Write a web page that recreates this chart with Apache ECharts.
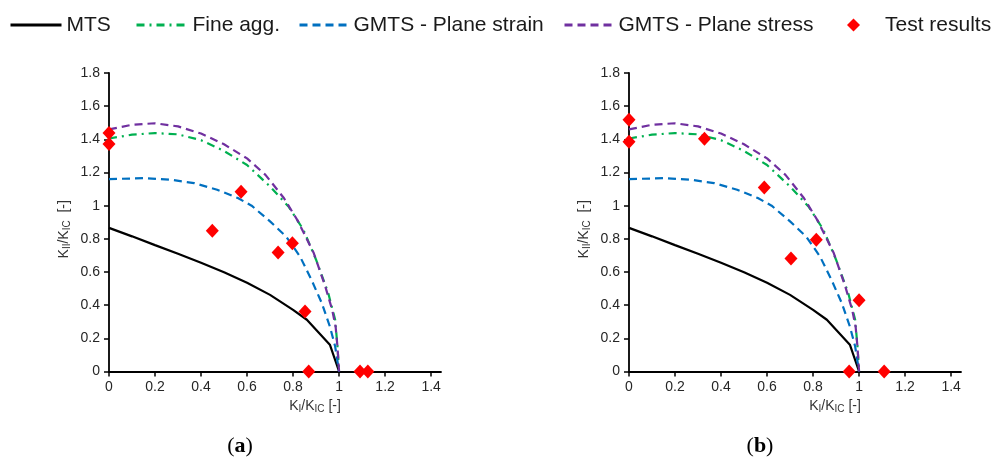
<!DOCTYPE html>
<html><head><meta charset="utf-8">
<script src="https://cdn.jsdelivr.net/npm/echarts@6/dist/echarts.min.js"></script>
<style>html,body{margin:0;padding:0;background:#fff}#c{width:992px;height:458px}</style>
</head><body><div id="c"></div>
<script>
// ---- data ----
const mtsX = [0, 0.1, 0.2, 0.3, 0.4, 0.5, 0.6, 0.7, 0.8, 0.86, 0.96, 1];
const mtsY = [0.866, 0.815, 0.762, 0.71, 0.656, 0.598, 0.535, 0.462, 0.372, 0.312, 0.162, 0];

const fineX = [0, 0.1, 0.2, 0.3, 0.4, 0.5, 0.6, 0.7, 0.78, 0.845, 0.9, 0.953, 0.983, 0.993, 1];
const fineY = [1.405, 1.428, 1.438, 1.43, 1.395, 1.33, 1.245, 1.116, 0.995, 0.855, 0.674, 0.473, 0.312, 0.151, 0];

const strainX = [0, 0.15, 0.27, 0.37, 0.47, 0.56, 0.62, 0.7, 0.77, 0.83, 0.88, 0.925, 0.96, 0.983, 1];
const strainY = [1.16, 1.166, 1.156, 1.136, 1.096, 1.046, 1.0, 0.905, 0.814, 0.694, 0.553, 0.412, 0.271, 0.151, 0];

const stressX = [0, 0.1, 0.2, 0.3, 0.4, 0.5, 0.6, 0.68, 0.76, 0.82, 0.89, 0.94, 0.97, 0.985, 0.993, 1];
const stressY = [1.46, 1.488, 1.497, 1.478, 1.435, 1.37, 1.285, 1.186, 1.046, 0.91, 0.714, 0.513, 0.372, 0.27, 0.15, 0];

const testAX = [0, 0, 0.574, 0.449, 0.735, 0.797, 0.852, 0.868, 1.091, 1.125];
const testAY = [1.438, 1.372, 1.084, 0.849, 0.718, 0.774, 0.362, 0, 0, 0];
const testBX = [0, 0, 0.328, 0.588, 0.704, 0.814, 1.0, 0.957, 1.109];
const testBY = [1.518, 1.386, 1.404, 1.110, 0.682, 0.794, 0.430, 0, 0];

const xTicks = [0, 0.2, 0.4, 0.6, 0.8, 1, 1.2, 1.4];
const seriesNames = ['MTS', 'Fine agg.', 'GMTS - Plane strain', 'GMTS - Plane stress', 'Test results'];
const panelLabels = ['a', 'b'];

// ---- chart ----
const pts = (xs, ys) => xs.map((x, i) => [x, ys[i]]);
const FONT = 'Liberation Sans, Arial, sans-serif';
const chart = echarts.init(document.getElementById('c'), null, {renderer: 'canvas'});

const grids = [
  {left: 109, top: 73, width: 332, height: 298.5},
  {left: 629, top: 73, width: 332, height: 298.5}
];

const subRich = {
  k: {fontSize: 14, fontFamily: FONT, color: '#333', lineHeight: 16},
  s: {fontSize: 10, fontFamily: FONT, color: '#333', lineHeight: 6, verticalAlign: 'bottom'}
};

function xAxis(i) {
  return {
    gridIndex: i, type: 'value', min: 0, max: 1.443,
    splitLine: {show: false},
    axisLine: {show: true, onZero: false, lineStyle: {color: '#000', width: 1.8}},
    axisTick: {show: true, inside: false, length: 5, customValues: xTicks, lineStyle: {color: '#000', width: 1.5}},
    axisLabel: {customValues: xTicks, margin: 9, color: '#262626', fontSize: 14, fontFamily: FONT},
    name: '{k|K}{s|I}{k|/K}{s|IC}{k| [-]}',
    nameLocation: 'middle', nameGap: 26,
    nameTextStyle: {rich: subRich, padding: [0, 0, 0, 80]}
  };
}
function yAxis(i) {
  return {
    gridIndex: i, type: 'value', min: 0, max: 1.8, interval: 0.2,
    splitLine: {show: false},
    axisLine: {show: true, onZero: false, lineStyle: {color: '#000', width: 1.8}},
    axisTick: {show: true, inside: false, length: 5, lineStyle: {color: '#000', width: 1.5}},
    axisLabel: {margin: 9, color: '#262626', fontSize: 14, fontFamily: FONT},
    name: '{k|K}{s|II}{k|/K}{s|IC}{k|  [-]}',
    nameLocation: 'middle', nameGap: 37,
    nameTextStyle: {rich: subRich, padding: [0, 14, 0, 0]}
  };
}

const lineDefs = [
  {name: seriesNames[0], xs: mtsX, ys: mtsY, color: '#000000', type: 'solid'},
  {name: seriesNames[1], xs: fineX, ys: fineY, color: '#00b050', type: [8, 5, 2, 5]},
  {name: seriesNames[2], xs: strainX, ys: strainY, color: '#0070c0', type: [8, 5]},
  {name: seriesNames[3], xs: stressX, ys: stressY, color: '#7030a0', type: [8, 5]}
];

const series = [];
[0, 1].forEach(g => {
  lineDefs.forEach(d => {
    series.push({
      name: d.name, type: 'line', xAxisIndex: g, yAxisIndex: g,
      data: pts(d.xs, d.ys), symbol: 'none', smooth: false, clip: false,
      lineStyle: {color: d.color, width: 2.2, type: d.type},
      itemStyle: {color: d.color}, z: 2
    });
  });
  series.push({
    name: seriesNames[4], type: 'scatter', xAxisIndex: g, yAxisIndex: g,
    data: g === 0 ? pts(testAX, testAY) : pts(testBX, testBY),
    symbol: 'diamond', symbolSize: [13, 14], clip: false,
    itemStyle: {color: '#ff0000', opacity: 1}, z: 5
  });
});

const legTxt = {fontSize: 21, fontFamily: FONT, color: '#1a1a1a', lineHeight: 24};
const legends = [
  {name: seriesNames[0], left: 9, w: 51},
  {name: seriesNames[1], left: 135, w: 51},
  {name: seriesNames[2], left: 298, w: 49},
  {name: seriesNames[3], left: 563, w: 49}
].map(l => ({
  data: [l.name], left: l.left, top: 13, padding: 0, itemWidth: l.w, itemHeight: 14,
  lineStyle: {width: 3}, itemStyle: {opacity: 0, borderWidth: 0}, textStyle: legTxt, selectedMode: false
}));
legends.push({
  data: [seriesNames[4]], left: 847, top: 13, padding: 0, itemWidth: 13, itemHeight: 13,
  itemStyle: {opacity: 1},
  textStyle: Object.assign({}, legTxt, {padding: [0, 0, 0, 20]}), selectedMode: false
});

const graphics = panelLabels.map((t, i) => ({
  type: 'text', x: i === 0 ? 240 : 760, y: 446,
  style: {
    text: '{n|(}{b|' + t + '}{n|)}',
    align: 'center', verticalAlign: 'middle',
    rich: {
      n: {fontSize: 22, fontFamily: 'Liberation Serif, Times New Roman, serif', fill: '#000'},
      b: {fontSize: 22, fontWeight: 'bold', fontFamily: 'Liberation Serif, Times New Roman, serif', fill: '#000'}
    }
  }
}));

chart.setOption({
  animation: false,
  backgroundColor: '#fff',
  grid: grids,
  xAxis: [xAxis(0), xAxis(1)],
  yAxis: [yAxis(0), yAxis(1)],
  legend: legends,
  graphic: graphics,
  series: series
});
</script></body></html>
